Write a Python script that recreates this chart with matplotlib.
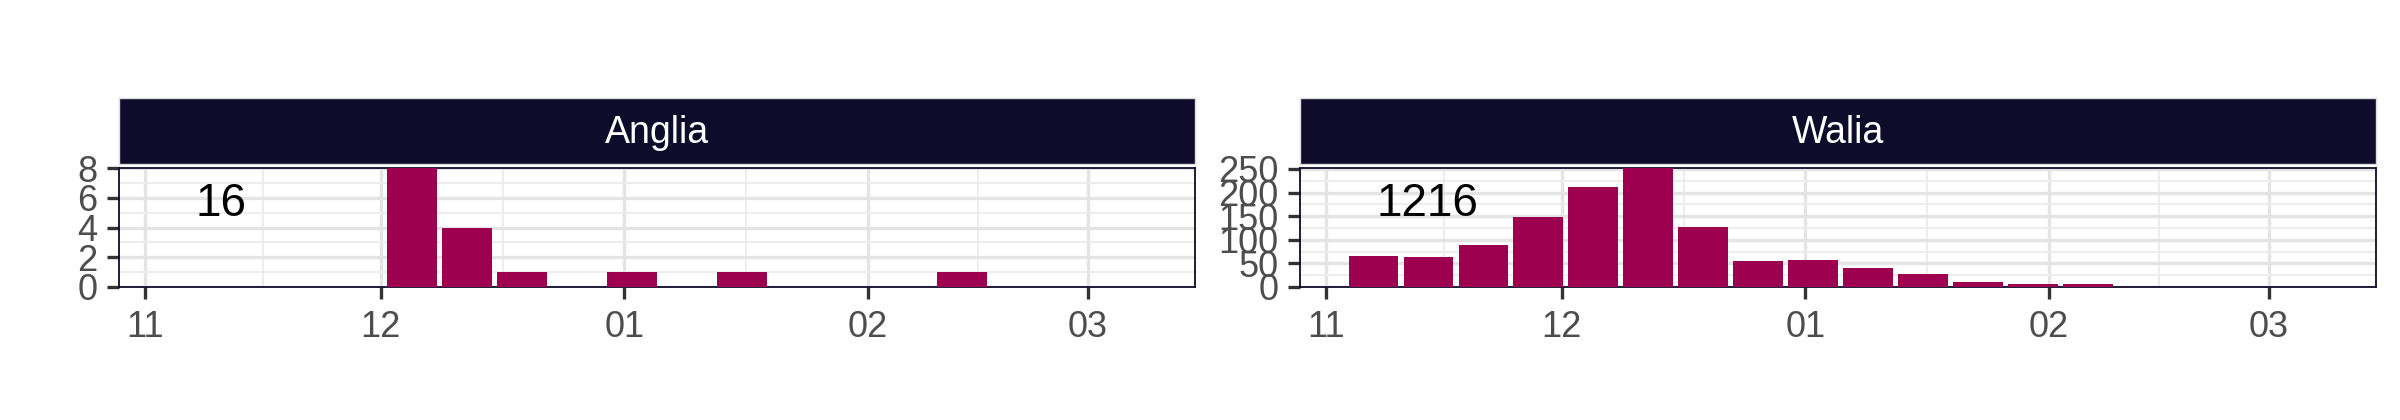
import matplotlib
matplotlib.use('Agg')
import matplotlib.pyplot as plt
import matplotlib.dates as mdates
import matplotlib.ticker as ticker
from datetime import datetime

plt.rcParams['font.family'] = ['Liberation Sans', 'DejaVu Sans']

# Weekly bins (bar centres)
weeks = ['2022-11-07', '2022-11-14', '2022-11-21', '2022-11-28',
         '2022-12-05', '2022-12-12', '2022-12-19', '2022-12-26',
         '2023-01-02', '2023-01-09', '2023-01-16', '2023-01-23',
         '2023-01-30', '2023-02-06', '2023-02-13', '2023-02-20',
         '2023-02-27', '2023-03-06']

regions = ['Anglia', 'Walia']
anglia_counts = [0, 0, 0, 0, 8, 4, 1, 0, 1, 0, 1, 0, 0, 0, 1, 0, 0, 0]
walia_counts = [66, 64, 89, 148, 211, 252, 127, 56, 58, 40, 28, 10, 7, 7, 1, 0, 0, 1]
totals = ['16', '1216']
y_steps = [2, 50]
month_starts = ['2022-11-01', '2022-12-01', '2023-01-01', '2023-02-01', '2023-03-01']

counts = [anglia_counts, walia_counts]
week_dates = [datetime.strptime(w, '%Y-%m-%d') for w in weeks]
majors = [mdates.date2num(datetime.strptime(m, '%Y-%m-%d')) for m in month_starts]

# Colours
bar_color = '#9C004E'
navy = '#0E0B2B'
grid_major = '#E4E4E4'
grid_minor = '#EDEDED'
label_color = '#4D4D4D'

W, H = 2400, 420
fig = plt.figure(figsize=(24, 4.2), dpi=100)

panel_left = [119, 1300]
panel_w = 1076
panel_top, panel_bot = 168, 287
strip_top, strip_bot = 98, 164

x_min = datetime(2022, 10, 28, 16)
x_max = datetime(2023, 3, 14, 16)

for i, region in enumerate(regions):
    ax = fig.add_axes([panel_left[i] / W, 1 - panel_bot / H,
                       panel_w / W, (panel_bot - panel_top) / H])
    vals = counts[i]
    ax.bar(week_dates, vals, width=6.3, color=bar_color, zorder=3)

    ax.set_xlim(x_min, x_max)
    ax.set_ylim(0, max(vals))

    step = y_steps[i]
    ax.yaxis.set_major_locator(ticker.MultipleLocator(step))
    ax.yaxis.set_minor_locator(ticker.MultipleLocator(step / 2))

    ax.xaxis.set_major_locator(ticker.FixedLocator(majors))
    ax.xaxis.set_major_formatter(mdates.DateFormatter('%m'))
    minors = [(a + b) / 2 for a, b in zip(majors[:-1], majors[1:])]
    ax.xaxis.set_minor_locator(ticker.FixedLocator(minors))

    ax.grid(which='major', color=grid_major, linewidth=2.4, zorder=0)
    ax.grid(which='minor', color=grid_minor, linewidth=1.4, zorder=0)
    ax.set_axisbelow(True)

    ax.tick_params(which='major', length=8.6, width=2.4, color='#333333',
                   labelsize=26, labelcolor=label_color, pad=7)
    ax.tick_params(axis='x', which='major', pad=8)
    ax.tick_params(which='minor', length=0)

    for sp in ax.spines.values():
        sp.set_color(navy)
        sp.set_linewidth(1.3)

    ax.text(0.071, 0.70, totals[i], transform=ax.transAxes, ha='left',
            va='center', fontsize=33, color='black', zorder=5)

    # facet strip
    sax = fig.add_axes([panel_left[i] / W, 1 - strip_bot / H,
                        panel_w / W, (strip_bot - strip_top) / H])
    sax.set_facecolor(navy)
    sax.set_xticks([])
    sax.set_yticks([])
    for sp in sax.spines.values():
        sp.set_color('#DDDDDD')
        sp.set_linewidth(1)
    sax.text(0.5, 0.47, region, transform=sax.transAxes, ha='center',
             va='center', fontsize=27, color='white')

fig.savefig('out.png', dpi=100, facecolor='white')
